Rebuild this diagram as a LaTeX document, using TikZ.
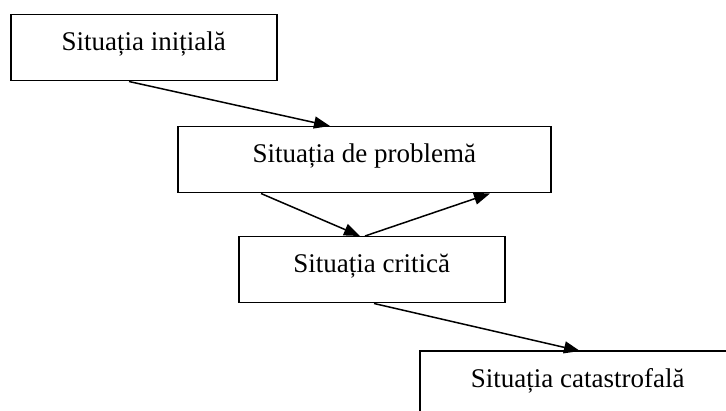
\documentclass[tikz,border=0pt]{standalone}
\usepackage{fontspec}
\setmainfont{Liberation Serif}
\usetikzlibrary{arrows.meta}
\begin{document}
\begin{tikzpicture}[x=1pt,y=1pt,
  box/.style={draw,line width=1.5pt,inner sep=0pt,text height=36pt,text depth=30pt,
    font=\fontsize{27}{31}\selectfont,anchor=north west},
  arr/.style={line width=1.5pt,-{Triangle[length=16pt,width=12pt]}}]
\useasboundingbox (0,0) rectangle (726,410);
\clip (0,0) rectangle (726,410);
\node[box,minimum width=266pt] (b1) at (10,396) {Situația inițială};
\node[box,minimum width=373pt] (b2) at (177,284) {Situația de problemă};
\node[box,minimum width=266pt] (b3) at (238,174) {Situația critică};
\node[box,draw=none,minimum width=314pt] (b4) at (420,59) {Situația catastrofală};
\draw[line width=1.5pt] (b4.north east) -- (b4.north west) -- ([yshift=-20pt]b4.south west);
\draw[arr] ([xshift=119pt]b1.south west) -- ([xshift=153pt]b2.north west);
\draw[arr] ([xshift=84pt]b2.south west) -- ([xshift=122pt]b3.north west);
\draw[arr] ([xshift=127pt]b3.north west) -- ([xshift=313pt]b2.south west);
\draw[arr] ([xshift=136pt]b3.south west) -- ([xshift=160pt]b4.north west);
\end{tikzpicture}
\end{document}
